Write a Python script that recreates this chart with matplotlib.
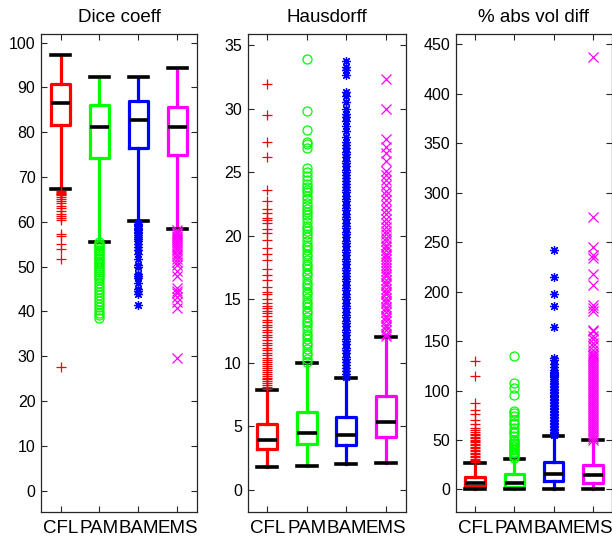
import matplotlib
matplotlib.use('Agg')
import matplotlib.pyplot as plt

plt.rcParams['font.family'] = ['Liberation Sans', 'DejaVu Sans']

groups = ['CFL', 'PAM', 'BAM', 'EMS']
colors = ['#ff0000', '#00ff00', '#0000ff', '#ff00ff']
markers = ['+', 'o', (8, 2, 0), 'x']

# ---- Dice coeff ----
dice_lo = [67.3, 55.5, 60.1, 58.4]
dice_q1 = [81.6, 74.2, 76.4, 74.8]
dice_med = [86.4, 81.1, 82.8, 81.2]
dice_q3 = [90.7, 86.1, 86.9, 85.5]
dice_hi = [97.3, 92.2, 92.4, 94.3]
dice_out_cfl = [66.9, 66.7, 66.5, 66.3, 66.1, 65.9, 65.5, 65.0, 64.6, 64.1, 63.6, 63.0,
                62.4, 61.8, 61.3, 60.8, 60.3, 57.2, 56.9, 55.0, 53.9, 51.7, 27.5]
dice_out_pam = [55.4, 55.1, 54.8, 54.5, 54.1, 53.8, 53.4, 53.1, 52.7, 52.4, 52.0, 51.6,
                51.3, 50.9, 50.5, 50.1, 49.7, 49.3, 48.9, 48.4, 47.9, 47.4, 46.9, 46.3,
                45.7, 45.1, 44.4, 43.7, 43.0, 42.3, 41.6, 40.9, 40.2, 39.6, 39.1, 38.6]
dice_out_bam = [59.9, 59.6, 59.3, 59.0, 58.7, 58.4, 58.1, 57.8, 57.4, 57.0, 56.6, 56.1,
                55.6, 55.0, 54.3, 53.7, 52.9, 51.6, 50.4, 49.9, 48.3, 48.0, 47.5, 46.4,
                45.0, 44.5, 43.9, 41.5]
dice_out_ems = [58.1, 57.8, 57.5, 57.2, 56.9, 56.5, 56.1, 55.7, 55.3, 54.9, 54.4, 53.9,
                53.4, 52.9, 52.3, 51.7, 51.0, 50.3, 49.0, 48.0, 45.2, 44.6, 44.0, 43.2,
                42.0, 40.8, 29.7]

# ---- Hausdorff ----
haus_lo = [1.83, 1.91, 2.04, 2.12]
haus_q1 = [3.2, 3.62, 3.54, 4.19]
haus_med = [3.96, 4.51, 4.32, 5.37]
haus_q3 = [5.16, 6.16, 5.71, 7.39]
haus_hi = [7.84, 9.96, 8.83, 12.0]
haus_out_cfl = [7.95, 8.1, 8.25, 8.4, 8.55, 8.7, 8.85, 9.0, 9.15, 9.3, 9.45, 9.6, 9.75,
                9.9, 10.05, 10.2, 10.4, 10.6, 10.8, 11.0, 11.2, 11.4, 11.6, 11.8, 12.0,
                12.2, 12.4, 12.6, 12.8, 13.0, 13.2, 13.4, 13.7, 13.9, 14.1, 14.3, 14.5,
                14.7, 15.0, 15.4, 15.6, 16.0, 16.5, 16.9, 17.4, 18.1, 18.6, 19.0, 19.7,
                20.2, 20.5, 21.0, 21.2, 21.4, 21.75, 22.1, 22.7, 23.6, 26.2, 27.4, 29.5,
                31.9]
haus_out_pam = [10.1, 10.3, 10.6, 10.8, 11.1, 11.4, 11.6, 11.9, 12.1, 12.3, 12.6, 12.9,
                13.1, 13.3, 13.6, 13.9, 14.1, 14.4, 14.6, 14.8, 15.1, 15.4, 15.6, 15.9,
                16.1, 16.3, 16.6, 16.9, 17.1, 17.4, 17.6, 17.8, 18.1, 18.4, 18.6, 18.9,
                19.1, 19.3, 19.6, 19.9, 20.1, 20.4, 20.6, 20.8, 21.1, 21.4, 21.6, 21.9,
                22.1, 22.3, 22.6, 22.9, 23.1, 23.4, 23.6, 23.8, 24.1, 24.4, 24.7, 25.0,
                25.3, 26.9, 27.2, 27.4, 28.3, 29.8, 33.9]
haus_out_bam = [8.9, 9.1, 9.4, 9.6, 9.8, 10.1, 10.3, 10.5, 10.8, 11.0, 11.2, 11.5, 11.7,
                11.9, 12.2, 12.4, 12.6, 12.9, 13.1, 13.3, 13.6, 13.8, 14.0, 14.3, 14.5,
                14.7, 15.0, 15.2, 15.4, 15.7, 15.9, 16.1, 16.4, 16.6, 16.8, 17.1, 17.3,
                17.5, 17.8, 18.0, 18.2, 18.5, 18.7, 18.9, 19.2, 19.4, 19.6, 19.9, 20.1,
                20.3, 20.6, 20.8, 21.0, 21.3, 21.5, 21.7, 22.0, 22.2, 22.4, 22.7, 22.9,
                23.1, 23.4, 23.6, 23.8, 24.1, 24.3, 24.5, 24.8, 25.0, 25.2, 25.5, 25.7,
                25.9, 26.2, 26.4, 26.6, 26.9, 27.1, 27.4, 27.8, 28.2, 28.6, 29.0, 29.3,
                29.6, 30.0, 30.5, 31.0, 31.3, 32.6, 33.0, 33.3, 33.7]
haus_out_ems = [12.1, 12.3, 12.6, 12.8, 13.0, 13.3, 13.5, 13.7, 14.0, 14.2, 14.4, 14.7,
                14.9, 15.1, 15.4, 15.6, 15.8, 16.1, 16.3, 16.5, 16.8, 17.0, 17.2, 17.5,
                17.7, 17.9, 18.2, 18.4, 18.6, 18.9, 19.1, 19.3, 19.6, 19.8, 20.1, 20.4,
                20.7, 21.0, 21.3, 21.7, 22.0, 22.4, 22.8, 23.2, 23.5, 24.0, 24.4, 24.8,
                25.1, 25.9, 26.5, 27.0, 27.6, 30.0, 32.3]

# ---- % abs vol diff ----
vol_lo = [0.0, 0.0, 0.0, 0.0]
vol_q1 = [3.4, 2.4, 8.4, 6.7]
vol_med = [6.8, 6.8, 15.8, 14.5]
vol_q3 = [12.8, 15.2, 28.0, 24.9]
vol_hi = [27.0, 31.3, 54.5, 49.8]
vol_out_cfl = [28, 29.5, 31, 32.5, 34, 35.5, 37, 38.5, 40, 41.5, 43, 44.5, 46, 47.5, 49,
               50.5, 52, 53.5, 55, 56.5, 58, 60, 62, 65.7, 70.7, 75.8, 80.8, 87.6, 115,
               129.6]
vol_out_pam = [32, 33.5, 35, 36.5, 38, 39.5, 41, 42.5, 44, 45.5, 47, 48.5, 50.5, 53.9, 57,
               58.9, 62, 65.7, 67, 70.7, 74, 77, 79, 96, 102.7, 107.8, 135]
vol_out_bam = [55.5, 57, 58.5, 60, 61.5, 63, 64.5, 66, 67.5, 69, 70.5, 72, 73.5, 75, 76.5,
               78, 79.5, 81, 82.5, 84, 85.5, 87, 88.5, 90, 91.5, 93, 94.5, 96, 97.5, 99,
               100.5, 102, 103.5, 105, 106.5, 108, 110, 112, 114, 115, 116, 117, 118, 119,
               121, 124, 126.6, 131, 133, 164, 186, 198, 215, 242]
vol_out_ems = [50.5, 52.5, 54.5, 56.5, 58.5, 60.5, 62.5, 64.5, 66.5, 68.5, 70.5, 72.5,
               74.5, 76.5, 78.5, 80.5, 82.5, 84.5, 86.5, 88.5, 90.5, 92.5, 94.5, 96.5,
               98.5, 100.5, 102.5, 104.5, 106.5, 108.5, 110.5, 112.5, 114.5, 116.5, 118.5,
               120.5, 122.5, 124.5, 126.5, 128.5, 130.5, 132.5, 134.5, 136, 138, 141, 145,
               148, 152, 155, 160, 161.6, 180, 183.5, 187, 207, 218, 234, 237, 245, 276,
               437]

panels = [
    ('Dice coeff', dice_lo, dice_q1, dice_med, dice_q3, dice_hi,
     [dice_out_cfl, dice_out_pam, dice_out_bam, dice_out_ems],
     (-4.7, 101.9), list(range(0, 101, 10))),
    ('Hausdorff', haus_lo, haus_q1, haus_med, haus_q3, haus_hi,
     [haus_out_cfl, haus_out_pam, haus_out_bam, haus_out_ems],
     (-1.7, 35.86), list(range(0, 36, 5))),
    ('% abs vol diff', vol_lo, vol_q1, vol_med, vol_q3, vol_hi,
     [vol_out_cfl, vol_out_pam, vol_out_bam, vol_out_ems],
     (-22.5, 460.6), list(range(0, 451, 50))),
]

# axes rectangles in figure fractions (left, bottom, width, height)
rects = [
    [41 / 612, 28.3 / 540, 156 / 612, 477.7 / 540],
    [247.5 / 612, 28.3 / 540, 158 / 612, 477.7 / 540],
    [455.7 / 612, 28.3 / 540, 156.6 / 612, 477.7 / 540],
]

fig = plt.figure(figsize=(6.12, 5.40), dpi=100)
spine_col = '#262626'

for rect, (title, lo, q1, med, q3, hi, outs, ylim, yticks) in zip(rects, panels):
    ax = fig.add_axes(rect)
    for i in range(4):
        st = dict(whislo=lo[i], q1=q1[i], med=med[i], q3=q3[i], whishi=hi[i],
                  fliers=outs[i])
        c = colors[i]
        ax.bxp([st], positions=[i + 1], widths=0.5, capwidths=0.5,
               manage_ticks=False,
               boxprops=dict(color=c, linewidth=2.3),
               whiskerprops=dict(color=c, linewidth=2.3, linestyle='-'),
               capprops=dict(color='black', linewidth=2.6),
               medianprops=dict(color='black', linewidth=2.6),
               flierprops=dict(marker=markers[i], color=c, markeredgecolor=c,
                               markerfacecolor='none', markersize=6.5,
                               markeredgewidth=0.9, linestyle='none'))
    ax.set_xlim(0.5, 4.5)
    ax.set_ylim(*ylim)
    ax.set_xticks([1, 2, 3, 4])
    ax.set_xticklabels(groups, fontsize=13.5)
    ax.set_yticks(yticks)
    ax.tick_params(axis='y', labelsize=11.5, direction='in', length=4, right=True,
                   color=spine_col, pad=4)
    ax.tick_params(axis='x', direction='in', length=4, top=True, color=spine_col, pad=6)
    for s in ax.spines.values():
        s.set_color(spine_col)
        s.set_linewidth(0.9)
    ax.set_title(title, fontsize=13.5, pad=9)

fig.savefig('out.png', dpi=100)
